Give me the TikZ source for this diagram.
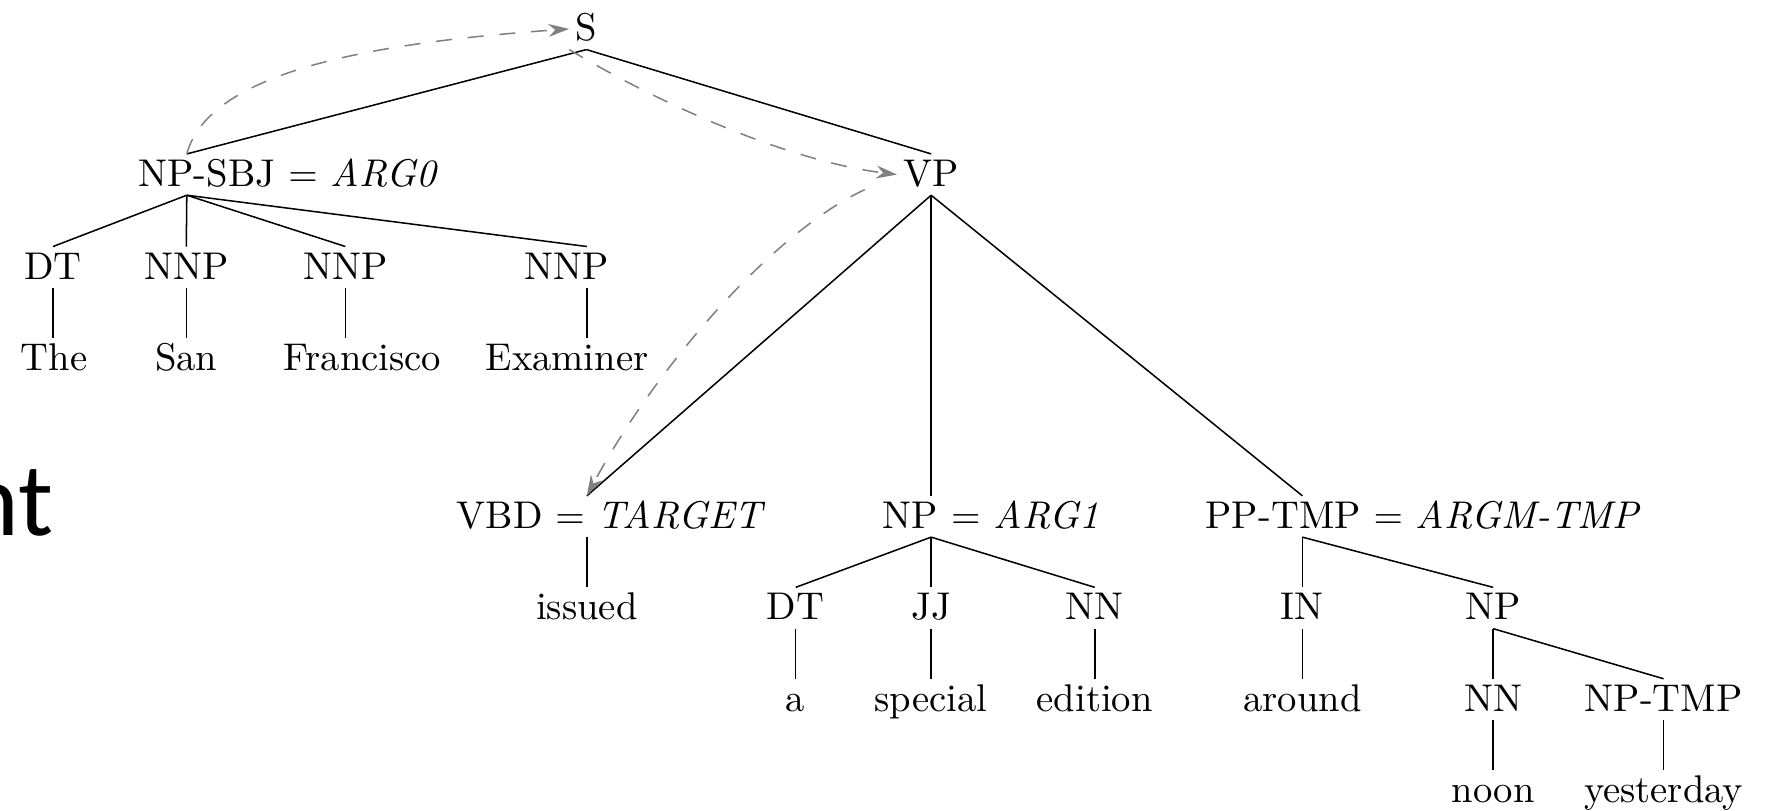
\documentclass[tikz,border=0pt]{standalone}
\usepackage{fontspec}
\usepackage{tikz}
\usetikzlibrary{arrows.meta}
\newfontfamily\slidefont{Carlito}

\begin{document}
\begin{tikzpicture}[
  lbl/.style={font=\fontsize{10.2pt}{12pt}\selectfont, inner sep=1.5pt, text height=6.9pt, text depth=0.6pt, anchor=base},
  dep/.style={gray, dash pattern=on 4.2pt off 4.2pt, -{Stealth[length=5.5pt,width=3.4pt]}}
]
\useasboundingbox (0,0) rectangle (16.42,7.52);

% word of the slide, cut by the left edge
\node[anchor=base east, inner sep=0pt, font=\slidefont\fontsize{27.5}{33}\selectfont] (cut) at (0.50,2.555) {nt};

% S and its two children
\node[lbl] (s) at (5.44,7.141) {S};
\coordinate (npsbj) at (1.733,5.790);
\node[lbl] (npsbj-l) at (2.675,5.790) {NP-SBJ $=$ \textit{ARG0}};
\node[lbl] (vp) at (8.638,5.790) {VP};

% subject
\node[lbl] (dt1) at (0.492,4.931) {DT};
\node[lbl] (nnp1) at (1.728,4.931) {NNP};
\node[lbl] (nnp2) at (3.204,4.931) {NNP};
\coordinate (nnp3) at (5.444,4.931);
\node[lbl] (nnp3-l) at (5.261,4.931) {NNP};

\node[lbl] (the) at (0.503,4.083) {The};
\node[lbl] (san) at (1.728,4.083) {San};
\node[lbl] (francisco) at (3.361,4.083) {Francisco};
\node[lbl] (examiner) at (5.261,4.083) {Examiner};

% verb phrase
\coordinate (vbd) at (5.444,2.618);
\node[lbl] (vbd-l) at (5.670,2.618) {VBD $=$ \textit{TARGET}};
\coordinate (np1) at (8.638,2.618);
\node[lbl] (np1-l) at (9.193,2.618) {NP $=$ \textit{ARG1}};
\coordinate (pptmp) at (12.082,2.618);
\node[lbl] (pptmp-l) at (13.203,2.618) {PP-TMP $=$ \textit{ARGM-TMP}};

\node[lbl] (issued) at (5.444,1.769) {issued};
\node[lbl] (dt2) at (7.381,1.769) {DT};
\node[lbl] (jj) at (8.638,1.769) {JJ};
\node[lbl] (nn1) at (10.156,1.769) {NN};
\node[lbl] (in1) at (12.082,1.769) {IN};
\node[lbl] (np2) at (13.852,1.769) {NP};

\node[lbl] (a) at (7.381,0.921) {a};
\node[lbl] (special) at (8.638,0.921) {special};
\node[lbl] (edition) at (10.156,0.921) {edition};
\node[lbl] (around) at (12.082,0.921) {around};
\node[lbl] (nn2) at (13.852,0.921) {NN};
\node[lbl] (nptmp) at (15.433,0.921) {NP-TMP};

\node[lbl] (noon) at (13.852,0.073) {noon};
\node[lbl] (yesterday) at (15.433,0.073) {yesterday};

% tree edges
\draw (s.south) -- (npsbj-l.north -| npsbj);
\draw (s.south) -- (vp.north);

\draw (npsbj-l.south -| npsbj) -- (dt1.north);
\draw (npsbj-l.south -| npsbj) -- (nnp1.north);
\draw (npsbj-l.south -| npsbj) -- (nnp2.north);
\draw (npsbj-l.south -| npsbj) -- (nnp3-l.north -| nnp3);
\draw (dt1.south) -- (the.north -| dt1);
\draw (nnp1.south) -- (san.north);
\draw (nnp2.south) -- (francisco.north -| nnp2);
\draw (nnp3-l.south -| nnp3) -- (examiner.north -| nnp3);

\draw (vp.south) -- (vbd-l.north -| vbd);
\draw (vp.south) -- (np1-l.north -| np1);
\draw (vp.south) -- (pptmp-l.north -| pptmp);

\draw (vbd-l.south -| vbd) -- (issued.north);
\draw (np1-l.south -| np1) -- (dt2.north);
\draw (np1-l.south -| np1) -- (jj.north);
\draw (np1-l.south -| np1) -- (nn1.north);
\draw (pptmp-l.south -| pptmp) -- (in1.north);
\draw (pptmp-l.south -| pptmp) -- (np2.north);

\draw (dt2.south) -- (a.north);
\draw (jj.south) -- (special.north);
\draw (nn1.south) -- (edition.north);
\draw (in1.south) -- (around.north);
\draw (np2.south) -- (nn2.north);
\draw (np2.south) -- (nptmp.north);
\draw (nn2.south) -- (noon.north);
\draw (nptmp.south) -- (yesterday.north);

% dashed links
\draw[dep] (npsbj-l.north -| npsbj) .. controls +(75:0.8) and +(184:1.8) .. (s.west);
\draw[dep] (s.south west) .. controls +(-31:1) and +(173:1) .. (vp.west);
\draw[dep, shorten <=0.33cm] (vp.west) .. controls +(205:1.3) and +(62:1.3) .. (vbd-l.north -| vbd);

\end{tikzpicture}
\end{document}
